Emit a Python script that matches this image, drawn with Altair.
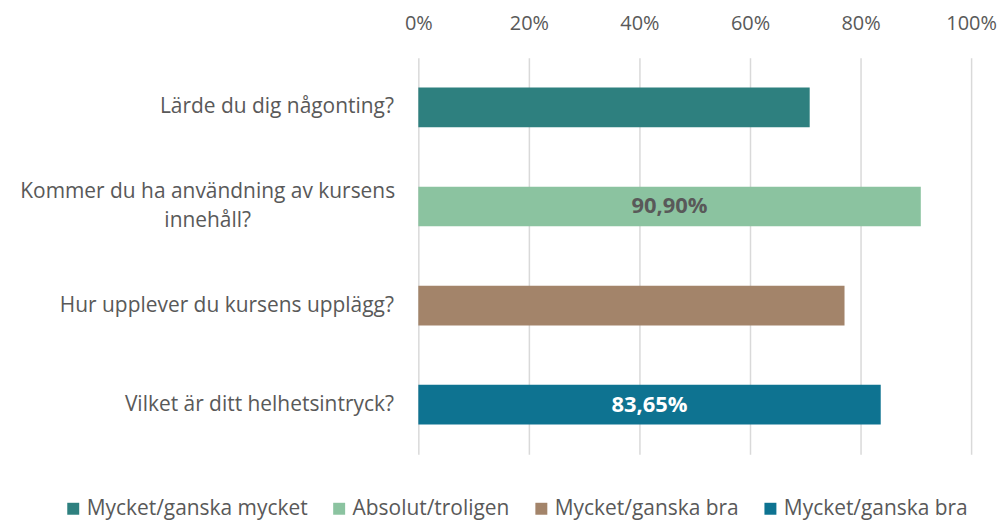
import altair as alt
import pandas as pd

questions = [
    "Lärde du dig någonting?",
    "Kommer du ha användning av kursens innehåll?",
    "Hur upplever du kursens upplägg?",
    "Vilket är ditt helhetsintryck?",
]
answers = [
    "Mycket/ganska mycket",
    "Absolut/troligen",
    "Mycket/ganska bra",
    "Mycket/ganska bra",
]
values = [0.708, 0.909, 0.771, 0.8365]
value_labels = ["", "90,90%", "", "83,65%"]

bar_colors = ["#2E807F", "#8BC3A0", "#A3846A", "#0E7391"]
text_colors = ["#595959", "#595959", "#595959", "#FFFFFF"]

FONT = "Open Sans"
GREY = "#595959"

df = pd.DataFrame({"question": questions, "answer": answers,
                   "value": values, "label": value_labels})

is_long = f"datum.value == '{questions[1]}'"
y_label_expr = (
    f"{is_long} ? ['Kommer du ha användning av kursens', 'innehåll?'] : datum.value"
)
legend_expr = " : ".join(
    f"datum.value == '{q}' ? '{a}'" for q, a in zip(questions, answers)
) + " : datum.value"

y_enc = alt.Y("question:N", sort=questions, title=None,
              scale=alt.Scale(paddingInner=0.6, paddingOuter=0.3),
              axis=alt.Axis(labelExpr=y_label_expr, labelFont=FONT, labelFontSize=21,
                            labelColor=GREY,
                            labelAlign=alt.condition(is_long, alt.value("center"), alt.value("right")),
                            labelPadding=alt.condition(is_long, alt.value(212), alt.value(25)),
                            labelOffset=alt.condition(is_long, alt.value(-15), alt.value(0)),
                            ticks=False, domain=False,
                            labelLimit=420, labelLineHeight=30,
                            minExtent=412, maxExtent=412))

bars = alt.Chart(df).mark_bar().encode(
    x=alt.X("value:Q", title=None,
            scale=alt.Scale(domain=[0, 1]),
            axis=alt.Axis(orient="top", format=".0%", values=[0, 0.2, 0.4, 0.6, 0.8, 1.0],
                          labelFont=FONT, labelFontSize=20, labelColor=GREY,
                          labelFlush=False,
                          ticks=False, domain=False, labelPadding=24,
                          grid=True, gridColor="#D9D9D9", gridWidth=1.5,
                          minExtent=49, maxExtent=49)),
    y=y_enc,
    color=alt.Color("question:N", sort=questions,
                    scale=alt.Scale(domain=questions, range=bar_colors),
                    legend=alt.Legend(title=None, orient="none", direction="horizontal",
                                      legendX=-357, legendY=442,
                                      labelExpr=legend_expr, labelFont=FONT,
                                      labelFontSize=21, labelColor=GREY,
                                      symbolType="square", symbolSize=144,
                                      symbolStrokeWidth=0, labelOffset=3,
                                      columnPadding=21, labelLimit=400)),
)

texts = alt.Chart(df).transform_calculate(mid="datum.value / 2").mark_text(
    font=FONT, fontSize=22, fontWeight="bold", align="center", baseline="middle"
).encode(
    x="mid:Q",
    y=alt.Y("question:N", sort=questions),
    text="label:N",
    color=alt.Color("question:N", scale=alt.Scale(domain=questions, range=text_colors),
                    legend=None),
)

chart = alt.layer(bars, texts).resolve_scale(color="independent").properties(
    width=555, height=398,
    padding={"left": 0, "top": 0, "right": 0, "bottom": 0},
).configure_view(stroke=None)

chart.save("out.html", embed_options={"renderer": "svg", "actions": False})
